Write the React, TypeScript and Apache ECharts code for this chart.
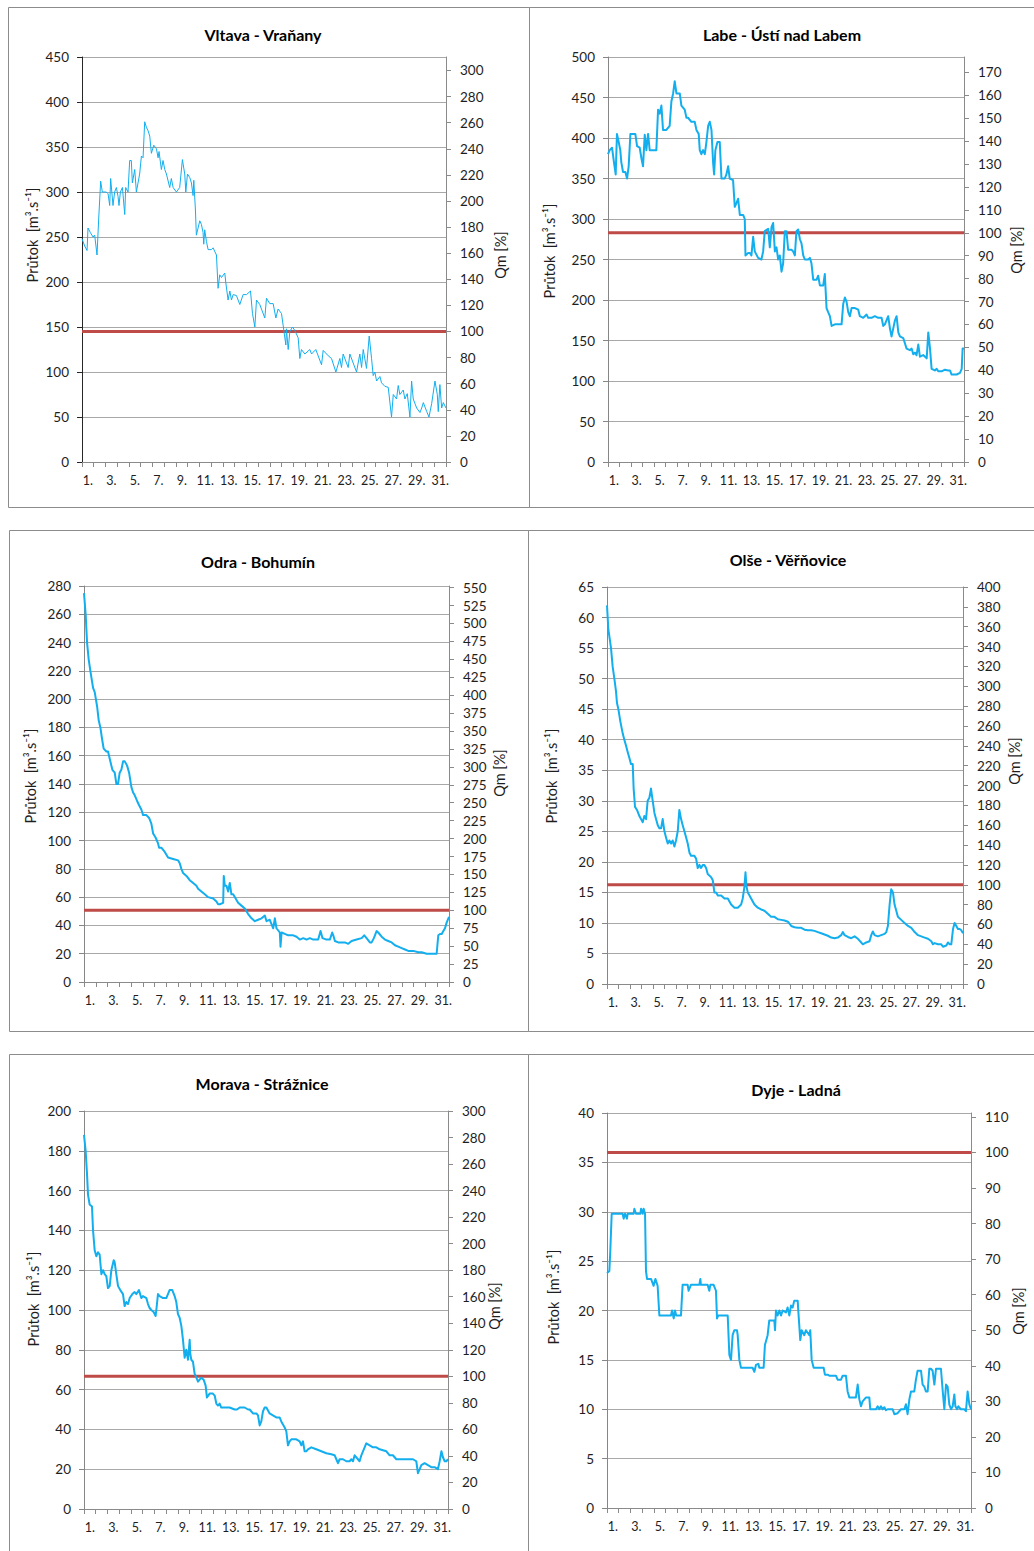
import React, { useEffect, useRef } from "react";
import * as echarts from "echarts";

const FONT = "Lato, 'Noto Sans', 'DejaVu Sans', sans-serif";

// ---------- shared axis data ----------
const dayTicks = [1, 2, 3, 4, 5, 6, 7, 8, 9, 10, 11, 12, 13, 14, 15, 16, 17, 18, 19, 20, 21, 22, 23, 24, 25, 26, 27, 28, 29, 30, 31, 32];
const dayLabelDays = [1, 3, 5, 7, 9, 11, 13, 15, 17, 19, 21, 23, 25, 27, 29, 31];
const qmPercent = 100;

const titles = ["Vltava - Vraňany", "Labe - Ústí nad Labem", "Odra - Bohumín", "Olše - Věřňovice", "Morava - Strážnice", "Dyje - Ladná"];
const leftAxisName = "Průtok  [m³.s⁻¹]";
const rightAxisName = "Qm [%]";

// ---------- tick labels ----------
const vltavaLeftTicks = [0, 50, 100, 150, 200, 250, 300, 350, 400, 450];
const vltavaRightTicks = [0, 20, 40, 60, 80, 100, 120, 140, 160, 180, 200, 220, 240, 260, 280, 300];
const labeLeftTicks = [0, 50, 100, 150, 200, 250, 300, 350, 400, 450, 500];
const labeRightTicks = [0, 10, 20, 30, 40, 50, 60, 70, 80, 90, 100, 110, 120, 130, 140, 150, 160, 170];
const odraLeftTicks = [0, 20, 40, 60, 80, 100, 120, 140, 160, 180, 200, 220, 240, 260, 280];
const odraRightTicks = [0, 25, 50, 75, 100, 125, 150, 175, 200, 225, 250, 275, 300, 325, 350, 375, 400, 425, 450, 475, 500, 525, 550];
const olseLeftTicks = [0, 5, 10, 15, 20, 25, 30, 35, 40, 45, 50, 55, 60, 65];
const olseRightTicks = [0, 20, 40, 60, 80, 100, 120, 140, 160, 180, 200, 220, 240, 260, 280, 300, 320, 340, 360, 380, 400];
const moravaLeftTicks = [0, 20, 40, 60, 80, 100, 120, 140, 160, 180, 200];
const moravaRightTicks = [0, 20, 40, 60, 80, 100, 120, 140, 160, 180, 200, 220, 240, 260, 280, 300];
const dyjeLeftTicks = [0, 5, 10, 15, 20, 25, 30, 35, 40];
const dyjeRightTicks = [0, 10, 20, 30, 40, 50, 60, 70, 80, 90, 100, 110];

// secondary axis maximum (% of Qm at the top of the plot)
const rightMaxes = [310.3, 176.7, 552.3, 400, 300, 111.1];

// ---------- discharge series: [day, m3/s] ----------
const vltava = [[1.00,248],[1.23,240],[1.43,235],[1.51,260],[1.71,255],[1.94,250],[2.08,252],[2.28,230],[2.42,270],[2.59,312],[2.73,300],[3.07,300],[3.22,298],[3.36,285],[3.44,315],[3.64,285],[3.78,300],[3.93,305],[4.07,295],[4.15,285],[4.27,300],[4.44,305],[4.64,275],[4.72,305],[4.92,300],[5.06,335],[5.20,335],[5.29,310],[5.49,325],[5.63,300],[5.77,310],[5.91,320],[6.06,340],[6.20,338],[6.34,378],[6.48,372],[6.63,368],[6.77,362],[6.91,343],[7.11,352],[7.34,348],[7.48,338],[7.56,345],[7.76,325],[7.90,335],[8.05,325],[8.19,320],[8.47,305],[8.61,315],[8.76,305],[9.04,300],[9.32,305],[9.55,336],[9.75,320],[9.84,300],[9.98,320],[10.18,316],[10.32,310],[10.46,296],[10.52,313],[10.66,280],[10.74,252],[11.03,268],[11.17,264],[11.31,255],[11.37,242],[11.45,258],[11.60,245],[11.74,236],[12.02,236],[12.16,238],[12.45,230],[12.59,193],[12.73,208],[12.88,205],[13.16,210],[13.24,200],[13.44,180],[13.59,190],[13.73,180],[13.87,186],[14.15,185],[14.44,175],[14.72,186],[15.01,186],[15.35,190],[15.52,165],[15.72,150],[15.86,180],[16.14,175],[16.57,160],[16.71,182],[16.99,176],[17.28,176],[17.51,160],[17.70,170],[17.99,165],[18.13,152],[18.36,130],[18.41,148],[18.56,125],[18.70,145],[18.93,150],[19.13,146],[19.41,138],[19.55,115],[19.69,125],[19.98,120],[20.40,125],[20.55,120],[20.91,125],[21.40,108],[21.54,124],[21.97,118],[22.25,115],[22.62,100],[22.96,115],[23.10,105],[23.24,120],[23.67,105],[23.81,120],[24.38,100],[24.66,120],[24.81,105],[24.95,125],[25.23,104],[25.46,140],[25.66,115],[25.80,96],[25.94,100],[26.09,90],[26.37,95],[26.51,88],[26.80,84],[27.08,83],[27.36,50],[27.51,75],[27.79,70],[27.93,85],[28.07,75],[28.36,80],[28.50,70],[28.70,76],[28.93,50],[29.07,90],[29.21,70],[29.50,60],[29.78,55],[29.93,60],[30.07,66],[30.36,56],[30.55,50],[30.78,65],[31.06,90],[31.26,75],[31.34,56],[31.48,86],[31.63,60],[31.77,66],[32.00,60]];

const labe = [[1.00,380],[1.15,385],[1.35,388],[1.52,370],[1.67,355],[1.78,405],[1.93,395],[2.07,385],[2.16,370],[2.31,358],[2.51,358],[2.66,350],[2.80,365],[2.95,405],[3.09,405],[3.38,405],[3.53,390],[3.76,388],[3.91,375],[4.05,365],[4.20,404],[4.34,385],[4.49,405],[4.63,385],[4.92,385],[5.21,385],[5.36,435],[5.50,430],[5.65,440],[5.79,410],[6.08,410],[6.37,415],[6.52,445],[6.67,455],[6.81,470],[6.96,455],[7.25,455],[7.39,440],[7.68,435],[7.83,425],[7.97,425],[8.26,420],[8.55,420],[8.70,410],[8.90,405],[8.99,385],[9.13,380],[9.28,385],[9.43,380],[9.57,395],[9.72,415],[9.86,420],[10.01,410],[10.15,370],[10.24,355],[10.35,385],[10.53,395],[10.73,395],[10.88,350],[11.17,350],[11.31,355],[11.46,365],[11.60,350],[11.89,348],[12.04,315],[12.19,320],[12.33,325],[12.48,305],[12.77,305],[12.91,300],[12.97,255],[13.20,258],[13.35,258],[13.49,255],[13.64,278],[13.78,260],[14.07,252],[14.36,250],[14.51,260],[14.65,285],[14.95,288],[15.09,265],[15.24,290],[15.38,295],[15.53,260],[15.67,265],[15.82,250],[15.96,255],[16.11,235],[16.25,245],[16.40,285],[16.54,285],[16.69,262],[16.98,262],[17.12,260],[17.27,255],[17.41,285],[17.56,287],[17.71,275],[17.85,270],[18.00,255],[18.14,250],[18.43,250],[18.58,252],[18.72,245],[18.87,225],[19.16,225],[19.30,230],[19.45,218],[19.74,218],[19.88,232],[20.03,190],[20.17,185],[20.32,180],[20.47,168],[20.76,170],[21.05,170],[21.34,170],[21.48,195],[21.63,203],[21.77,198],[21.92,185],[22.06,180],[22.21,190],[22.50,190],[22.79,188],[22.93,180],[23.23,178],[23.52,182],[23.66,178],[23.95,178],[24.24,180],[24.53,178],[24.82,178],[24.97,168],[25.11,170],[25.40,180],[25.55,165],[25.69,155],[25.84,165],[25.99,175],[26.13,180],[26.28,160],[26.42,155],[26.71,153],[27.00,140],[27.29,138],[27.44,140],[27.58,133],[27.73,135],[27.87,132],[28.02,145],[28.16,130],[28.45,132],[28.75,128],[28.89,160],[29.04,140],[29.18,115],[29.47,113],[29.62,115],[29.76,112],[30.05,112],[30.34,114],[30.63,113],[30.78,113],[30.92,108],[31.36,108],[31.65,110],[31.80,115],[31.88,140],[32.00,140]];

const odra = [[1.00,275],[1.14,260],[1.26,240],[1.40,228],[1.54,220],[1.77,208],[1.91,205],[2.11,195],[2.25,185],[2.39,180],[2.53,172],[2.67,165],[2.90,163],[3.04,163],[3.18,158],[3.41,150],[3.61,148],[3.75,140],[3.89,140],[4.03,148],[4.17,150],[4.32,156],[4.46,156],[4.66,153],[4.83,148],[5.02,138],[5.17,134],[5.31,132],[5.51,128],[5.68,125],[5.87,122],[6.02,118],[6.30,118],[6.53,116],[6.72,112],[6.87,105],[7.09,102],[7.29,98],[7.38,95],[7.57,95],[7.86,92],[8.14,88],[8.57,87],[8.99,86],[9.13,84],[9.27,80],[9.42,77],[9.70,75],[9.98,72],[10.27,70],[10.55,68],[10.69,66],[10.97,64],[11.26,62],[11.54,60],[11.97,59],[12.25,57],[12.39,55],[12.53,55],[12.82,56],[12.87,75],[12.96,68],[13.10,68],[13.24,64],[13.38,70],[13.47,65],[13.52,62],[13.67,62],[13.95,58],[14.09,56],[14.37,54],[14.66,52],[14.94,48],[15.23,45],[15.51,43],[15.79,44],[16.08,45],[16.36,47],[16.50,43],[16.78,44],[17.07,38],[17.21,45],[17.35,38],[17.63,35],[17.69,25],[17.78,35],[18.06,34],[18.34,33],[18.77,33],[19.05,32],[19.33,30],[19.62,31],[19.90,30],[20.18,31],[20.47,30],[20.89,30],[21.09,36],[21.26,31],[21.60,30],[21.88,30],[22.08,35],[22.17,33],[22.31,29],[22.59,28],[22.88,28],[23.16,28],[23.44,27],[23.73,29],[24.15,30],[24.58,31],[24.80,33],[25.00,31],[25.28,28],[25.43,28],[25.62,31],[25.85,36],[25.99,35],[26.28,32],[26.56,30],[26.84,29],[27.13,28],[27.41,26],[27.69,25],[27.98,24],[28.26,23],[28.54,22],[28.97,22],[29.39,21],[29.68,21],[30.10,20],[30.67,20],[30.95,20],[31.09,33],[31.24,34],[31.38,34],[31.52,36],[31.66,38],[31.80,42],[32.00,46]];

const olse = [[1.00,62],[1.12,58],[1.20,57],[1.35,55],[1.49,52],[1.64,50],[1.78,48],[1.87,46],[1.99,45],[2.16,43],[2.37,41],[2.51,40],[2.66,39],[2.80,38],[2.95,37],[3.09,36],[3.24,36],[3.32,32],[3.44,29],[3.61,28.5],[3.82,27.5],[3.96,27],[4.11,26.5],[4.25,27.5],[4.40,27],[4.54,30],[4.69,30.5],[4.83,32],[4.98,30],[5.13,28],[5.27,27],[5.42,26],[5.56,25.5],[5.71,25.5],[5.85,27],[6.00,25],[6.14,24],[6.29,23],[6.43,23.5],[6.58,23],[6.72,23.5],[6.87,22.5],[7.01,23.5],[7.16,25],[7.30,28.5],[7.45,27],[7.59,26],[7.74,25],[7.89,24],[8.03,23],[8.18,21.5],[8.32,21],[8.61,21],[8.76,20.5],[8.90,19],[9.05,19.5],[9.19,19],[9.34,19.5],[9.48,19.5],[9.63,19],[9.77,18],[10.06,17.5],[10.21,17],[10.35,15],[10.50,15],[10.65,14.5],[10.94,14.5],[11.23,14],[11.52,14],[11.81,13],[12.10,12.5],[12.39,12.5],[12.68,13],[12.82,14],[12.97,16],[13.06,18.3],[13.14,16],[13.26,15],[13.41,14.5],[13.55,14],[13.84,13],[14.13,12.5],[14.42,12.2],[14.71,12],[15.00,11.5],[15.29,11],[15.58,11],[15.88,10.6],[16.17,10.5],[16.46,10.4],[16.75,10.2],[17.04,9.5],[17.33,9.3],[17.62,9.2],[17.91,9.2],[18.20,8.9],[18.49,8.8],[18.78,8.8],[19.07,8.7],[19.36,8.5],[19.65,8.3],[19.94,8.1],[20.23,7.9],[20.52,7.6],[20.81,7.5],[21.10,7.6],[21.39,8],[21.54,8.5],[21.69,8],[21.98,7.7],[22.27,7.5],[22.56,7.8],[22.85,7.4],[23.14,6.8],[23.28,6.5],[23.57,6.8],[23.86,7],[24.01,8],[24.15,8.6],[24.30,8],[24.59,7.8],[24.88,8],[25.17,8.2],[25.32,8.5],[25.46,9.5],[25.61,13],[25.75,15.5],[25.90,15],[26.04,13],[26.19,12],[26.33,11],[26.62,10.5],[26.91,10],[27.21,9.5],[27.50,9.2],[27.79,8.5],[28.08,8],[28.37,7.8],[28.66,7.6],[28.95,7.4],[29.24,7],[29.38,6.5],[29.53,6.7],[29.82,6.5],[30.11,6.5],[30.26,6.1],[30.55,6.3],[30.69,6.8],[30.84,6.5],[30.98,6.5],[31.13,9],[31.27,10],[31.42,9.5],[31.56,9],[31.71,9],[31.85,8.8],[32.00,8.3]];

const morava = [[1.00,188],[1.14,180],[1.26,168],[1.34,158],[1.48,153],[1.68,152],[1.77,140],[1.91,130],[2.05,127],[2.19,129],[2.33,128],[2.48,118],[2.62,120],[2.76,118],[2.90,117],[3.04,111],[3.19,112],[3.33,120],[3.53,125],[3.61,124],[3.75,118],[3.90,112],[4.09,110],[4.32,108],[4.46,102],[4.60,104],[4.75,103],[4.89,106],[5.12,108],[5.31,109],[5.46,108],[5.68,110],[5.88,106],[6.02,107],[6.31,106],[6.45,103],[6.59,101],[6.73,100],[6.93,99],[7.10,97],[7.16,100],[7.30,108],[7.44,107],[7.73,106],[8.01,106],[8.15,108],[8.29,110],[8.52,110],[8.72,107],[8.86,104],[9.00,98],[9.15,96],[9.29,92],[9.43,85],[9.57,76],[9.71,80],[9.86,75],[10.00,85],[10.05,78],[10.14,75],[10.28,74],[10.42,68],[10.57,66],[10.71,64],[10.85,65],[10.99,66],[11.19,65],[11.36,62],[11.47,56],[11.70,58],[11.98,58],[12.13,57],[12.27,53],[12.41,52],[12.55,53],[12.69,51],[12.98,51],[13.40,51],[13.83,50],[14.03,50],[14.26,51],[14.68,51],[14.97,50],[15.11,50],[15.39,48],[15.68,48],[15.82,47],[15.96,42],[16.10,44],[16.24,49],[16.38,51],[16.53,51],[16.81,48],[17.09,47],[17.38,46],[17.66,46],[17.80,44],[18.09,41],[18.23,39],[18.37,32],[18.51,34],[18.66,35],[19.08,35],[19.37,34],[19.51,32],[19.65,34],[19.79,29],[19.93,29],[20.07,30],[20.36,31],[20.78,30],[21.21,29],[21.64,28],[22.06,27.5],[22.35,27],[22.49,25],[22.63,23],[22.77,25],[23.06,25],[23.34,24],[23.62,24],[23.77,25],[23.91,24],[24.05,27],[24.33,25],[24.47,24],[24.62,27],[24.76,29],[25.04,33],[25.33,32],[25.61,31],[25.89,31],[26.18,30],[26.46,29.5],[26.75,29],[27.03,27],[27.31,27],[27.60,25],[27.88,25],[28.31,25],[28.73,25],[29.02,25],[29.30,24],[29.44,18],[29.59,20],[29.73,22],[30.01,23],[30.29,22],[30.58,21],[30.86,21],[31.14,20],[31.29,24],[31.44,29],[31.57,26],[31.72,24],[31.86,24],[32.00,25]];

const dyje = [[1.00,23.8],[1.20,24],[1.28,26],[1.40,29.8],[2.33,29.8],[2.42,29.3],[2.53,29.8],[2.70,29.3],[2.76,29.8],[3.27,29.8],[3.33,30.3],[3.47,29.8],[3.84,29.8],[3.90,30.3],[4.04,29.8],[4.12,30.3],[4.24,29.8],[4.32,24],[4.41,23.2],[4.75,23.2],[4.97,22.5],[5.12,23.2],[5.31,22.5],[5.46,19.5],[6.45,19.5],[6.54,20],[6.68,19.2],[6.79,20],[6.90,19.5],[7.30,19.5],[7.44,22.6],[7.87,22.6],[7.95,22],[8.15,22.6],[8.44,22.6],[8.86,22.6],[8.95,23.2],[9.00,22.6],[9.57,22.6],[9.71,22],[9.80,22.6],[10.08,22.6],[10.28,22],[10.37,19.2],[10.48,19.5],[11.28,19.5],[11.42,15.5],[11.56,15],[11.70,17.5],[11.84,18],[12.07,18],[12.13,17.5],[12.27,15],[12.41,14.2],[13.40,14.2],[13.55,13.8],[13.69,14.5],[13.89,14.6],[13.97,14.2],[14.34,14.2],[14.45,16.5],[14.68,17.5],[14.82,19],[15.25,19],[15.31,18],[15.39,20],[15.53,19.5],[15.68,20],[15.82,19.5],[15.96,20],[16.24,19.8],[16.38,20.3],[16.53,19.5],[16.67,20.5],[16.81,20.3],[16.95,21],[17.09,21],[17.24,21],[17.29,20],[17.46,17],[17.58,18],[17.80,17.5],[17.94,18],[18.23,17.5],[18.31,18],[18.43,15],[18.60,14.2],[19.45,14.2],[19.56,13.5],[19.79,13.5],[19.93,13.4],[20.50,13.4],[20.64,13],[20.93,13],[21.07,13.4],[21.35,13.4],[21.49,11.8],[21.64,11.2],[22.20,11.2],[22.35,12.5],[22.49,11],[22.63,10.3],[22.77,10.8],[23.06,11.2],[23.34,11.2],[23.42,10],[23.91,10],[24.05,10.3],[24.19,10],[24.33,10.3],[24.47,10],[24.62,10.2],[24.76,9.9],[24.90,10],[25.33,10],[25.47,9.5],[25.75,9.6],[26.04,10],[26.32,10],[26.46,10.5],[26.60,9.5],[26.75,11],[26.89,11.8],[27.17,11.8],[27.31,13],[27.45,13.9],[27.74,13.9],[27.88,12.5],[28.02,12.3],[28.16,11.8],[28.31,11.8],[28.45,14.1],[28.59,14.1],[28.73,13.9],[28.88,12.5],[29.02,14.1],[29.30,14.1],[29.44,14.1],[29.58,12],[29.73,10],[29.87,12.5],[30.01,12.3],[30.15,10.5],[30.30,10],[30.44,10.3],[30.58,11.5],[30.67,10.3],[30.81,10],[30.92,10.3],[31.14,10],[31.43,10],[31.57,9.8],[31.71,11.8],[31.86,10.5],[32.00,10]];

// ---------- layout (positions / styles) ----------
const panels = [
  { data: vltava, left: vltavaLeftTicks, right: vltavaRightTicks, grid: { left: 82, top: 57, width: 364, height: 405 }, lw: 1, border: [8.5, 7.5, 521, 500], titleAt: [263, 34], lName: [32, 235], rName: [500, 255], leftAxisColor: "#262626" },
  { data: labe, left: labeLeftTicks, right: labeRightTicks, grid: { left: 608, top: 57, width: 356, height: 405 }, lw: 2, border: [529.5, 7.5, 520, 500], titleAt: [782, 34], lName: [549, 251], rName: [1016, 250], leftAxisColor: "#868686" },
  { data: odra, left: odraLeftTicks, right: odraRightTicks, grid: { left: 84, top: 586, width: 365, height: 396 }, lw: 2, border: [9.5, 530.5, 519, 501], titleAt: [258, 561], lName: [30, 776], rName: [499, 773], leftAxisColor: "#868686" },
  { data: olse, left: olseLeftTicks, right: olseRightTicks, grid: { left: 607, top: 587, width: 356, height: 397 }, lw: 2, border: [528.5, 530.5, 520, 501], titleAt: [788, 559], lName: [551, 776], rName: [1014, 761], leftAxisColor: "#868686" },
  { data: morava, left: moravaLeftTicks, right: moravaRightTicks, grid: { left: 84, top: 1111, width: 364, height: 398 }, lw: 2, border: [9.5, 1054.5, 519, 520], titleAt: [262, 1083], lName: [33, 1299], rName: [494, 1306], leftAxisColor: "#868686" },
  { data: dyje, left: dyjeLeftTicks, right: dyjeRightTicks, grid: { left: 607, top: 1113, width: 364, height: 395 }, lw: 2, border: [528.5, 1054.5, 520, 520], titleAt: [796, 1089], lName: [553, 1297], rName: [1018, 1311], leftAxisColor: "#868686" },
];

const BLUE = "#12AEEE";
const RED = "#BE4B48";
const GRID = "#A8A8A8";
const AXIS = "#8A8A8A";
const TEXT = "#1e1e1e";

function buildOption() {
  const grid: any[] = [];
  const xAxis: any[] = [];
  const yAxis: any[] = [];
  const series: any[] = [];
  const graphic: any[] = [];
  const labelPositions = dayLabelDays.map((d) => d + 0.5);

  panels.forEach((p, i) => {
    grid.push({ ...p.grid, containLabel: false });
    xAxis.push({
      type: "value",
      gridIndex: i,
      min: dayTicks[0],
      max: dayTicks[dayTicks.length - 1],
      interval: 1,
      axisLine: { show: true, lineStyle: { color: AXIS, width: 1 } },
      axisTick: { show: true, inside: false, length: 5, lineStyle: { color: AXIS }, customValues: dayTicks },
      axisLabel: {
        customValues: labelPositions,
        formatter: (v: number) => `${Math.floor(v)}.`,
        fontSize: 12.5,
        fontFamily: FONT,
        color: TEXT,
        margin: 12,
      },
      splitLine: { show: false },
    });
    const lt = p.left;
    const rt = p.right;
    yAxis.push({
      type: "value",
      gridIndex: i,
      position: "left",
      min: lt[0],
      max: lt[lt.length - 1],
      interval: lt[1] - lt[0],
      axisLine: { show: true, lineStyle: { color: p.leftAxisColor, width: 1 } },
      axisTick: { show: true, length: 5, lineStyle: { color: p.leftAxisColor } },
      axisLabel: { fontSize: 13.5, fontFamily: FONT, color: TEXT, margin: 13 },
      splitLine: { show: true, lineStyle: { color: GRID, width: 1 } },
    });
    yAxis.push({
      type: "value",
      gridIndex: i,
      position: "right",
      min: rt[0],
      max: rightMaxes[i],
      interval: rt[1] - rt[0],
      axisLine: { show: true, onZero: false, lineStyle: { color: AXIS, width: 1 } },
      axisTick: { show: true, length: 5, lineStyle: { color: AXIS }, customValues: rt },
      axisLabel: {
        customValues: rt,
        fontSize: 13.5,
        fontFamily: FONT,
        color: TEXT,
        margin: 14,
        formatter: (v: number) => (rt.indexOf(v) >= 0 ? String(v) : ""),
      },
      splitLine: { show: false },
    });
    series.push({
      type: "line",
      xAxisIndex: i,
      yAxisIndex: 2 * i + 1,
      data: [[dayTicks[0], qmPercent], [dayTicks[dayTicks.length - 1], qmPercent]],
      symbol: "none",
      silent: true,
      lineStyle: { color: RED, width: 3 },
      z: 2,
    });
    series.push({
      type: "line",
      xAxisIndex: i,
      yAxisIndex: 2 * i,
      data: p.data,
      symbol: "none",
      silent: true,
      lineStyle: { color: BLUE, width: p.lw, join: "round" },
      z: 3,
    });

    const [bx, by, bw, bh] = p.border;
    graphic.push({
      type: "rect",
      z: 0,
      silent: true,
      shape: { x: bx, y: by, width: bw, height: bh },
      style: { fill: "none", stroke: "#8C8C8C", lineWidth: 1 },
    });
    graphic.push({
      type: "text",
      x: p.titleAt[0],
      y: p.titleAt[1],
      silent: true,
      style: { text: titles[i], fill: "#000", fontSize: 16, fontWeight: "bold", fontFamily: FONT, align: "center", verticalAlign: "middle" },
    });
    graphic.push({
      type: "text",
      x: p.lName[0],
      y: p.lName[1],
      rotation: Math.PI / 2,
      silent: true,
      style: { text: leftAxisName, fill: TEXT, fontSize: 14.5, fontFamily: FONT, align: "center", verticalAlign: "middle" },
    });
    graphic.push({
      type: "text",
      x: p.rName[0],
      y: p.rName[1],
      rotation: Math.PI / 2,
      silent: true,
      style: { text: rightAxisName, fill: TEXT, fontSize: 14.5, fontFamily: FONT, align: "center", verticalAlign: "middle" },
    });
  });

  return {
    animation: false,
    backgroundColor: "#ffffff",
    grid,
    xAxis,
    yAxis,
    series,
    graphic,
  };
}

export default function App() {
  const ref = useRef<HTMLDivElement>(null);
  useEffect(() => {
    if (!ref.current) return;
    const chart = echarts.init(ref.current, null, { renderer: "svg" });
    chart.setOption(buildOption() as any);
    return () => chart.dispose();
  }, []);
  return (
    <div
      ref={ref}
      style={{ position: "absolute", left: 0, top: 0, width: 1034, height: 1551, background: "#fff" }}
    />
  );
}
